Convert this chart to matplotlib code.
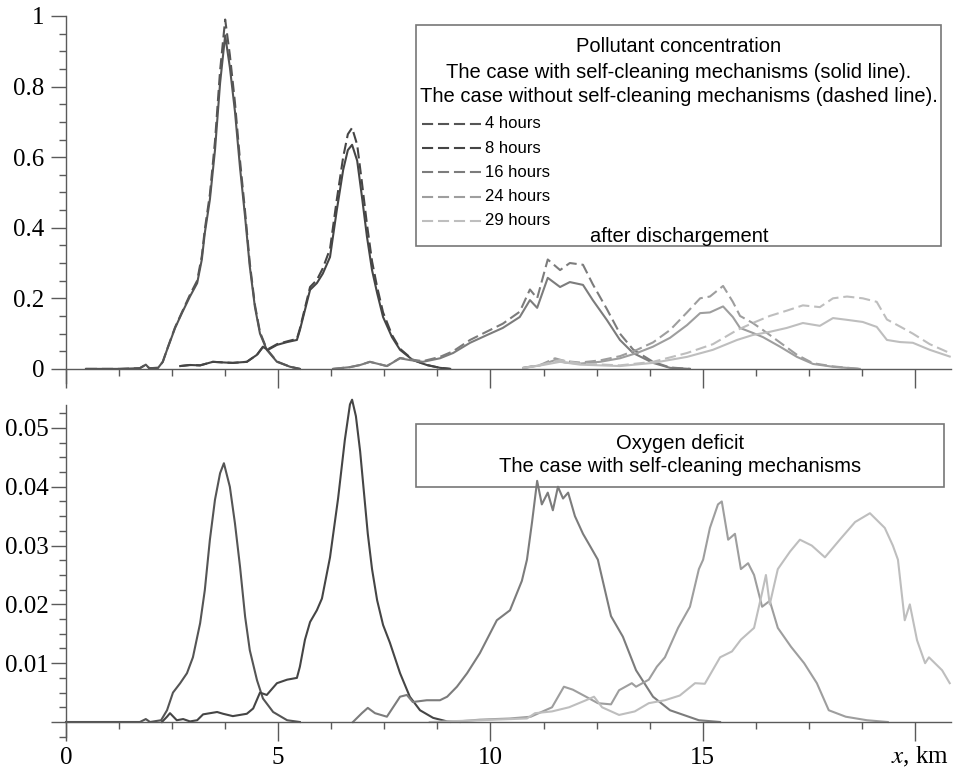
import matplotlib
matplotlib.use("Agg")
import matplotlib.pyplot as plt
from matplotlib.lines import Line2D
from matplotlib.patches import Rectangle
from matplotlib.ticker import MultipleLocator, FixedLocator

plt.rcParams["mathtext.fontset"] = "stix"
plt.rcParams["lines.scale_dashes"] = False

# ==============================
# Data: pollutant concentration (top panel)
# ==============================

hours = ["4 hours", "8 hours", "16 hours", "24 hours", "29 hours"]
colors = ["#555555", "#454545", "#7c7c7c", "#9e9e9e", "#bebebe"]

top_x_4h = [0.47, 1.27, 1.74, 1.88, 1.96, 2.17, 2.28, 2.38, 2.57, 2.73, 2.92, 3.09, 3.20, 3.27,
            3.39, 3.51, 3.63, 3.75, 3.86, 3.98, 4.10, 4.22, 4.33, 4.45, 4.57, 4.73, 4.97, 5.28, 5.51]
conc_4h_self = [0, 0, 0.002, 0.012, 0.002, 0.003, 0.02, 0.054, 0.116, 0.158, 0.205, 0.243, 0.31, 0.385,
                0.48, 0.62, 0.81, 0.945, 0.855, 0.73, 0.57, 0.43, 0.29, 0.176, 0.10, 0.054, 0.02, 0.006, 0]
conc_4h_noself = [0, 0, 0.002, 0.012, 0.002, 0.003, 0.02, 0.055, 0.118, 0.16, 0.21, 0.25, 0.32, 0.395,
                  0.495, 0.645, 0.845, 0.99, 0.89, 0.755, 0.59, 0.445, 0.30, 0.182, 0.104, 0.056, 0.021, 0.006, 0]

top_x_8h = [2.69, 2.92, 3.16, 3.46, 3.75, 3.93, 4.26, 4.50, 4.64, 4.76, 4.97, 5.21, 5.44, 5.51, 5.63,
            5.75, 5.91, 6.05, 6.22, 6.38, 6.53, 6.64, 6.74, 6.86, 6.97, 7.09, 7.21, 7.33, 7.47, 7.68,
            7.87, 8.17, 8.50, 8.81, 9.05]
conc_8h_self = [0.008, 0.011, 0.01, 0.02, 0.018, 0.017, 0.02, 0.04, 0.062, 0.054, 0.068, 0.076, 0.082,
                0.11, 0.167, 0.224, 0.243, 0.27, 0.317, 0.45, 0.564, 0.62, 0.635, 0.59, 0.49, 0.375,
                0.28, 0.215, 0.147, 0.09, 0.054, 0.025, 0.011, 0.003, 0]
conc_8h_noself = [0.008, 0.011, 0.01, 0.02, 0.018, 0.017, 0.02, 0.04, 0.063, 0.056, 0.07, 0.078, 0.085,
                  0.114, 0.173, 0.232, 0.252, 0.285, 0.34, 0.48, 0.60, 0.665, 0.683, 0.635, 0.53, 0.41,
                  0.305, 0.232, 0.16, 0.096, 0.057, 0.026, 0.011, 0.003, 0]

top_x_16h = [6.29, 6.69, 6.93, 7.16, 7.56, 7.87, 8.10, 8.41, 8.81, 9.12, 9.52, 9.92, 10.29, 10.69,
             10.93, 11.10, 11.35, 11.64, 11.87, 12.18, 12.41, 12.74, 13.05, 13.36, 13.83, 14.23, 14.70]
conc_16h_self = [0, 0.005, 0.011, 0.02, 0.008, 0.03, 0.025, 0.02, 0.03, 0.045, 0.074, 0.096, 0.116,
                 0.147, 0.195, 0.173, 0.258, 0.232, 0.246, 0.238, 0.195, 0.139, 0.082, 0.045, 0.017, 0.003, 0]
conc_16h_noself = [0, 0.005, 0.011, 0.02, 0.008, 0.031, 0.027, 0.022, 0.034, 0.05, 0.082, 0.106, 0.128,
                   0.162, 0.225, 0.20, 0.31, 0.28, 0.30, 0.295, 0.24, 0.17, 0.10, 0.055, 0.02, 0.004, 0]

top_x_24h = [10.77, 11.17, 11.52, 11.76, 12.11, 12.58, 13.05, 13.45, 13.83, 14.23, 14.63, 14.94,
             15.17, 15.48, 15.71, 15.88, 16.18, 16.42, 16.82, 17.22, 17.60, 18.07, 18.70]
conc_24h_self = [0.003, 0.01, 0.025, 0.018, 0.015, 0.02, 0.03, 0.045, 0.063, 0.088, 0.124, 0.158,
                 0.16, 0.177, 0.147, 0.116, 0.102, 0.09, 0.063, 0.034, 0.014, 0.006, 0]
conc_24h_noself = [0.003, 0.011, 0.03, 0.022, 0.018, 0.024, 0.036, 0.054, 0.075, 0.11, 0.16, 0.20,
                   0.205, 0.235, 0.19, 0.15, 0.13, 0.11, 0.075, 0.04, 0.016, 0.007, 0]

top_x_29h = [10.77, 11.28, 11.64, 12.11, 13.05, 13.83, 14.63, 15.24, 15.81, 16.18, 16.58, 16.98,
             17.36, 17.76, 18.07, 18.40, 18.77, 19.10, 19.34, 19.65, 19.95, 20.35, 20.82]
conc_29h_self = [0.002, 0.012, 0.02, 0.012, 0.008, 0.017, 0.034, 0.054, 0.082, 0.096, 0.105, 0.116,
                 0.13, 0.122, 0.144, 0.139, 0.133, 0.119, 0.082, 0.076, 0.074, 0.054, 0.035]
conc_29h_noself = [0.002, 0.014, 0.025, 0.015, 0.01, 0.02, 0.045, 0.07, 0.11, 0.13, 0.15, 0.165,
                   0.18, 0.175, 0.20, 0.205, 0.20, 0.19, 0.14, 0.12, 0.10, 0.07, 0.045]

# ==============================
# Data: oxygen deficit (bottom panel)
# ==============================

oxy_x_4h = [0, 1.74, 1.88, 1.98, 2.24, 2.38, 2.52, 2.69, 2.85, 2.99, 3.16, 3.27, 3.39, 3.51, 3.63,
            3.72, 3.86, 3.98, 4.10, 4.22, 4.33, 4.50, 4.64, 4.88, 5.21, 5.51]
oxy_4h = [0, 0, 0.0005, 0, 0.0003, 0.002, 0.005, 0.0066, 0.0083, 0.011, 0.0168, 0.0224, 0.031,
          0.0378, 0.0423, 0.044, 0.040, 0.0338, 0.0264, 0.0179, 0.0122, 0.0071, 0.004, 0.0017, 0.0003, 0]

oxy_x_8h = [2.26, 2.38, 2.45, 2.61, 2.76, 2.92, 3.09, 3.23, 3.56, 3.70, 3.93, 4.26, 4.41, 4.57, 4.73,
            4.97, 5.21, 5.44, 5.51, 5.63, 5.75, 5.91, 6.03, 6.22, 6.41, 6.57, 6.69, 6.74, 6.83, 6.93,
            7.02, 7.11, 7.21, 7.33, 7.47, 7.63, 7.87, 8.10, 8.34, 8.65, 8.98, 9.28]
oxy_8h = [0, 0.0009, 0.0015, 0.0003, 0.0005, 0.0001, 0.0003, 0.0013, 0.0017, 0.0014, 0.001, 0.0014,
          0.0023, 0.005, 0.0046, 0.0066, 0.0072, 0.0075, 0.0094, 0.014, 0.017, 0.019, 0.021, 0.028,
          0.038, 0.048, 0.054, 0.0548, 0.052, 0.046, 0.039, 0.032, 0.026, 0.0207, 0.0165, 0.0135,
          0.0083, 0.0043, 0.002, 0.0007, 0.0001, 0]

oxy_x_16h = [6.76, 6.97, 7.11, 7.28, 7.56, 7.87, 8.03, 8.17, 8.50, 8.81, 8.98, 9.21, 9.45, 9.75,
             10.15, 10.46, 10.74, 10.86, 10.98, 11.10, 11.21, 11.35, 11.47, 11.59, 11.71, 11.83,
             11.99, 12.18, 12.34, 12.53, 12.84, 13.12, 13.43, 13.83, 14.23, 14.91, 15.41]
oxy_16h = [0, 0.0015, 0.0024, 0.0015, 0.0009, 0.0043, 0.0046, 0.0034, 0.0037, 0.0037, 0.0043, 0.006,
           0.0083, 0.0117, 0.0173, 0.019, 0.024, 0.0276, 0.034, 0.041, 0.037, 0.039, 0.036, 0.040,
           0.038, 0.039, 0.035, 0.032, 0.030, 0.0276, 0.018, 0.0145, 0.0088, 0.0043, 0.002, 0.0003, 0]

oxy_x_24h = [9.07, 9.75, 10.46, 10.95, 11.45, 11.73, 11.94, 12.25, 12.53, 12.84, 13.03, 13.33, 13.43,
             13.73, 13.92, 14.11, 14.42, 14.70, 14.91, 15.01, 15.17, 15.36, 15.45, 15.60, 15.76, 15.90,
             16.07, 16.21, 16.40, 16.58, 16.77, 17.08, 17.39, 17.69, 17.97, 18.37, 18.87, 19.36]
oxy_24h = [0, 0.0004, 0.0006, 0.0009, 0.0025, 0.006, 0.0055, 0.0043, 0.0032, 0.003, 0.0054, 0.0066,
           0.006, 0.0072, 0.0094, 0.011, 0.016, 0.0196, 0.026, 0.0276, 0.033, 0.037, 0.0375, 0.031,
           0.032, 0.026, 0.027, 0.025, 0.0196, 0.0206, 0.016, 0.0128, 0.01, 0.0066, 0.002, 0.0009,
           0.0003, 0]

oxy_x_29h = [8.57, 9.75, 10.86, 11.05, 11.45, 11.85, 12.25, 12.44, 12.63, 13.03, 13.40, 13.73, 14.11,
             14.46, 14.82, 15.05, 15.41, 15.69, 15.90, 16.21, 16.40, 16.49, 16.58, 16.77, 17.06, 17.29,
             17.57, 17.88, 18.23, 18.59, 18.94, 19.29, 19.48, 19.60, 19.76, 19.88, 20.05, 20.24, 20.33,
             20.64, 20.82]
oxy_29h = [0, 0.0003, 0.0006, 0.0015, 0.0018, 0.0025, 0.0037, 0.0043, 0.0025, 0.0012, 0.0018, 0.0032,
           0.0037, 0.0045, 0.0066, 0.0065, 0.011, 0.012, 0.014, 0.016, 0.022, 0.025, 0.020, 0.026,
           0.029, 0.031, 0.030, 0.028, 0.031, 0.034, 0.0355, 0.033, 0.030, 0.0276, 0.0173, 0.020,
           0.0139, 0.010, 0.011, 0.0088, 0.0066]

top_x = [top_x_4h, top_x_8h, top_x_16h, top_x_24h, top_x_29h]
top_self = [conc_4h_self, conc_8h_self, conc_16h_self, conc_24h_self, conc_29h_self]
top_noself = [conc_4h_noself, conc_8h_noself, conc_16h_noself, conc_24h_noself, conc_29h_noself]
oxy_x = [oxy_x_4h, oxy_x_8h, oxy_x_16h, oxy_x_24h, oxy_x_29h]
oxy_y = [oxy_4h, oxy_8h, oxy_16h, oxy_24h, oxy_29h]

# ==============================
# Figure layout (pixel based)
# ==============================

W, H = 956, 769
AXIS_COLOR = "#5a5a5a"
DASH = (0, (8, 3.5))


def fx(p):
    return p / W


def fy(p):
    return 1 - p / H


fig = plt.figure(figsize=(W / 100, H / 100), dpi=100)
ax1 = fig.add_axes([fx(66), fy(383), 885 / W, 367 / H])
ax2 = fig.add_axes([fx(66), fy(737), 885 / W, 332 / H])

for ax in (ax1, ax2):
    ax.set_xlim(0, 20.85)
    ax.patch.set_visible(False)
    for side in ("top", "right"):
        ax.spines[side].set_visible(False)
    ax.spines["left"].set_position(("data", 0))
    ax.spines["bottom"].set_position(("data", 0))
    for side in ("left", "bottom"):
        ax.spines[side].set_color(AXIS_COLOR)
        ax.spines[side].set_linewidth(1.0)
    ax.xaxis.set_major_locator(FixedLocator([0, 5, 10, 15, 20]))
    ax.xaxis.set_minor_locator(MultipleLocator(1.25))
    ax.tick_params(axis="both", which="both", direction="out", color=AXIS_COLOR, width=1.0,
                   labelsize=18, labelfontfamily="Liberation Serif")
    ax.tick_params(axis="y", which="major", length=11)
    ax.tick_params(axis="y", which="minor", length=5)
    ax.tick_params(axis="x", which="major", length=14, pad=4)
    ax.tick_params(axis="x", which="minor", length=5)

ax1.tick_params(axis="y", which="major", pad=4.3)
ax2.tick_params(axis="y", which="major", pad=1.5)

# ==============================
# Top: pollutant concentration
# ==============================

for xs, ys, yd, c in zip(top_x, top_self, top_noself, colors):
    ax1.plot(xs, yd, color=c, linewidth=1.5, linestyle=DASH, clip_on=False)
    ax1.plot(xs, ys, color=c, linewidth=1.5, clip_on=False)

ax1.set_ylim(-0.04, 1.0)
ax1.yaxis.set_major_locator(FixedLocator([0, 0.2, 0.4, 0.6, 0.8, 1.0]))
ax1.yaxis.set_minor_locator(MultipleLocator(0.05))
ax1.set_yticklabels(["0", "0.2", "0.4", "0.6", "0.8", "1"])
ax1.set_xticklabels([])

# ==============================
# Bottom: oxygen deficit
# ==============================

for xs, ys, c in zip(oxy_x, oxy_y, colors):
    ax2.plot(xs, ys, color=c, linewidth=1.5, clip_on=False)

ax2.set_ylim(-0.00255, 0.0539)
ax2.yaxis.set_major_locator(FixedLocator([0, 0.01, 0.02, 0.03, 0.04, 0.05]))
ax2.yaxis.set_minor_locator(MultipleLocator(0.0025))
ax2.set_yticklabels(["", "0.01", "0.02", "0.03", "0.04", "0.05"])
ax2.set_xticklabels(["0", "5", "10", "15", ""])
fig.text(fx(920), fy(763), "$x$, km", ha="center", va="baseline", fontsize=18,
         family="Liberation Serif")

# ==============================
# Legend boxes (drawn by hand)
# ==============================

SANS = "Liberation Sans"

fig.add_artist(Rectangle((fx(416), fy(246)), (941 - 416) / W, (246 - 25) / H,
                         transform=fig.transFigure, fill=False, edgecolor="#777777", linewidth=1.2))
cx = fx(679)
fig.text(cx, fy(46), "Pollutant concentration", ha="center", va="center", fontsize=14.5, family=SANS)
fig.text(cx, fy(72), "The case with self-cleaning mechanisms (solid line).",
         ha="center", va="center", fontsize=14.5, family=SANS)
fig.text(cx, fy(97), "The case without self-cleaning mechanisms (dashed line).",
         ha="center", va="center", fontsize=14.5, family=SANS)
for i, (label, c) in enumerate(zip(hours, colors)):
    yy = fy(124 + i * 24.2)
    fig.add_artist(Line2D([fx(422), fx(481)], [yy, yy], transform=fig.transFigure,
                          color=c, linewidth=1.5, linestyle=DASH))
    fig.text(fx(485), yy, label, ha="left", va="center", fontsize=12, family=SANS)
fig.text(cx, fy(236), "after dischargement", ha="center", va="center", fontsize=14.5, family=SANS)

fig.add_artist(Rectangle((fx(416), fy(487)), (944 - 416) / W, (487 - 424) / H,
                         transform=fig.transFigure, fill=False, edgecolor="#777777", linewidth=1.2))
fig.text(fx(680), fy(444), "Oxygen deficit", ha="center", va="center", fontsize=14.5, family=SANS)
fig.text(fx(680), fy(467), "The case with self-cleaning mechanisms",
         ha="center", va="center", fontsize=14.5, family=SANS)

fig.savefig("out.png", dpi=100, facecolor="white")
